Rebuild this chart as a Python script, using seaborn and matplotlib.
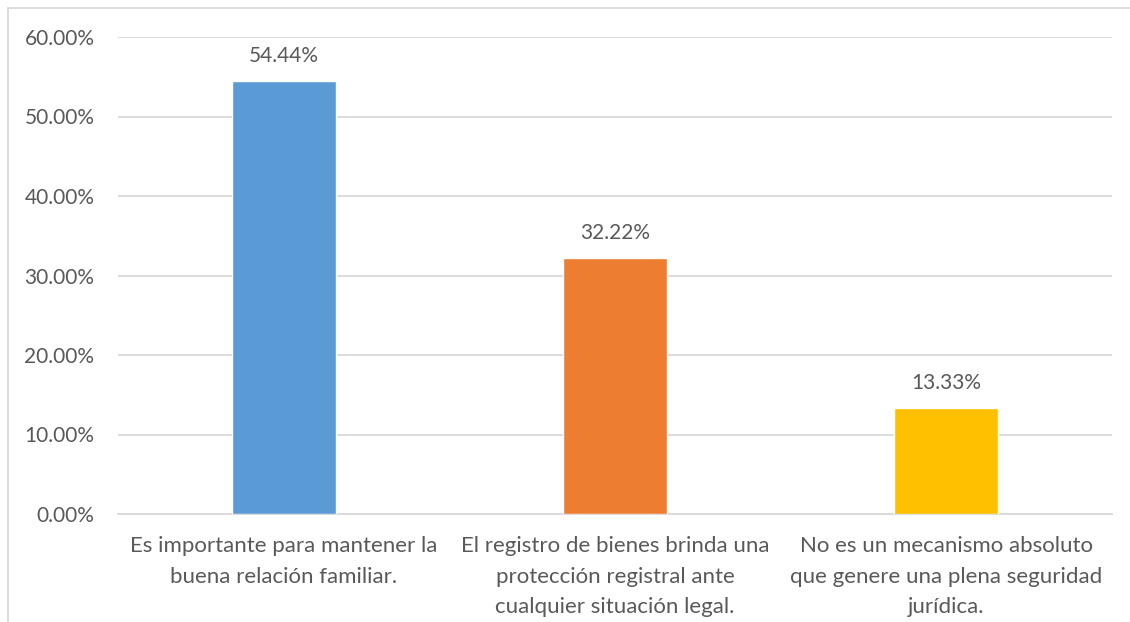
import matplotlib
matplotlib.use('Agg')
import matplotlib.pyplot as plt
import seaborn as sns
import pandas as pd
from matplotlib.patches import Rectangle
from matplotlib.ticker import PercentFormatter

# data
categorias = [
    "Es importante para mantener la\nbuena relación familiar.",
    "El registro de bienes brinda una\nprotección registral ante\ncualquier situación legal.",
    "No es un mecanismo absoluto\nque genere una plena seguridad\njurídica.",
]
porcentajes = [54.44, 32.22, 13.33]
colores = ["#5B9BD5", "#ED7D31", "#FFC000"]
yticks = [0, 10, 20, 30, 40, 50, 60]

df = pd.DataFrame({"cat": categorias, "pct": porcentajes})

sns.set_style("white")
plt.rcParams['font.family'] = ['Lato', 'DejaVu Sans']
texto = "#595959"

fig = plt.figure(figsize=(11.30, 6.22), dpi=100)
ax = fig.add_axes([118 / 1130, 1 - 514 / 622, (1112 - 118) / 1130, (514 - 37) / 622])

sns.barplot(data=df, x="cat", y="pct", hue="cat", palette=colores,
            legend=False, width=0.314, ax=ax, saturation=1, zorder=3)

for p, v in zip(ax.patches, porcentajes):
    ax.annotate(f"{v:.2f}%", (p.get_x() + p.get_width() / 2, p.get_height()),
                xytext=(0, 11), textcoords="offset points",
                ha="center", va="bottom", fontsize=15, color=texto)

ax.set_ylim(0, 60)
ax.set_yticks(yticks)
ax.yaxis.set_major_formatter(PercentFormatter(decimals=2))
ax.grid(axis="y", color="#D9D9D9", linewidth=1.3, zorder=0)
ax.set_axisbelow(True)
for s in ["top", "right", "left"]:
    ax.spines[s].set_visible(False)
ax.spines["bottom"].set_color("#D9D9D9")
ax.spines["bottom"].set_linewidth(1.3)
ax.set_xlabel("")
ax.set_ylabel("")
ax.tick_params(axis="y", length=0, pad=17, labelsize=15, labelcolor=texto)
ax.tick_params(axis="x", length=0, pad=16, labelsize=16, labelcolor=texto)
for lbl in ax.get_xticklabels():
    lbl.set_linespacing(1.65)
    lbl.set_ha("center")

# outer chart frame
fig.patches.append(Rectangle((8 / 1130, -0.1), 1.2, 1 - 8 / 622 + 0.1,
                             transform=fig.transFigure, fill=False,
                             edgecolor="#D9D9D9", linewidth=1.3))

fig.savefig("out.png", dpi=100)
